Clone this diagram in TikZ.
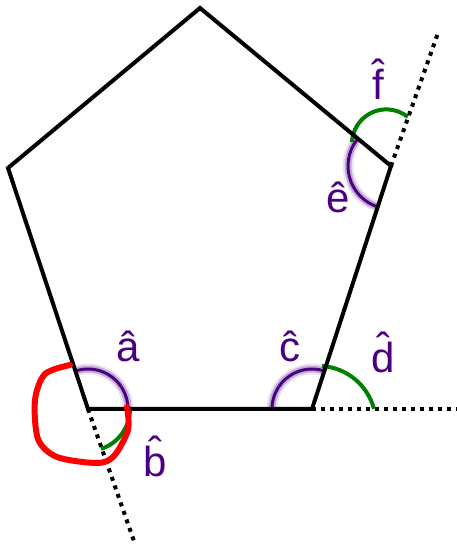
\documentclass[tikz,border=0pt]{standalone}
\usepackage{fontspec}
\setmainfont{Liberation Sans}
\definecolor{angpurple}{RGB}{75,0,130}
\definecolor{anggreen}{RGB}{0,128,0}
% letter with a circumflex set above it
\newcommand\anghat[2][0pt]{\ooalign{#2\cr\hidewidth\raisebox{#1}{ˆ}\hidewidth\cr}}
\begin{document}
\begin{tikzpicture}[x=1pt,y=1pt,
  side/.style={line width=4pt,line join=miter},
  ext/.style={line width=4pt,dash pattern=on 4pt off 5pt},
  inner/.style={preaction={draw,angpurple,opacity=.1,line width=11pt},
    preaction={draw,angpurple,opacity=.25,line width=7pt},draw=angpurple,line width=3pt},
  outer/.style={draw=anggreen,line width=4pt},
  loop/.style={draw=red,line width=6pt,line cap=round,line join=round},
  lbl/.style={text=angpurple,font=\fontsize{42}{42}\selectfont,anchor=base,inner sep=0pt}]
\useasboundingbox (0,0) rectangle (457,547);
% corners of the pentagon
\coordinate (T) at (200,539); \coordinate (L) at (8,379);
\coordinate (BL) at (88,138); \coordinate (BR) at (312,138);
\coordinate (R) at (391,381);
% ends of the produced sides
\coordinate (BLx) at (135,3); \coordinate (BRx) at (457,138); \coordinate (Rx) at (438,514);
% interior angles
\draw[inner] ([shift={(0:40)}]BL) arc[start angle=0,end angle=108,radius=40];
\draw[inner] ([shift={(72:40)}]BR) arc[start angle=72,end angle=180,radius=40];
\draw[inner] ([shift={(142:43)}]R) arc[start angle=142,end angle=250,radius=43];
% exterior angles
\draw[outer] ([shift={(0:42)}]BL) arc[start angle=0,end angle=-72,radius=42];
\draw[outer] ([shift={(10,43)}]BR) arc[start angle=86,end angle=15,radius=58];
\draw[outer] ([shift={(-39,24)}]R) arc[start angle=177,end angle=51.5,radius=34.4];
% sides
\draw[side] (T) -- (L) -- (BL) -- (BR) -- (R) -- cycle;
\draw[ext] (BL) -- (BLx); \draw[ext] (BR) -- (BRx); \draw[ext] (R) -- (Rx);
% reflex angle at the lower left corner
\draw[loop] plot[smooth] coordinates {(70,182) (45,173) (35,147) (38,108) (57,90) (97,84) (114,91) (128,117) (127,140)};
\node[lbl] (a) at (128,185) {\anghat{a}};
\node[lbl] (b) at (155,70) {\anghat[.26em]{b}};
\node[lbl] (c) at (290,185) {\anghat{c}};
\node[lbl] (d) at (383,174) {\anghat[.26em]{d}};
\node[lbl] (e) at (338,334) {\anghat{e}};
\node[lbl] (f) at (378,447) {\anghat[.26em]{f}};
\end{tikzpicture}
\end{document}
